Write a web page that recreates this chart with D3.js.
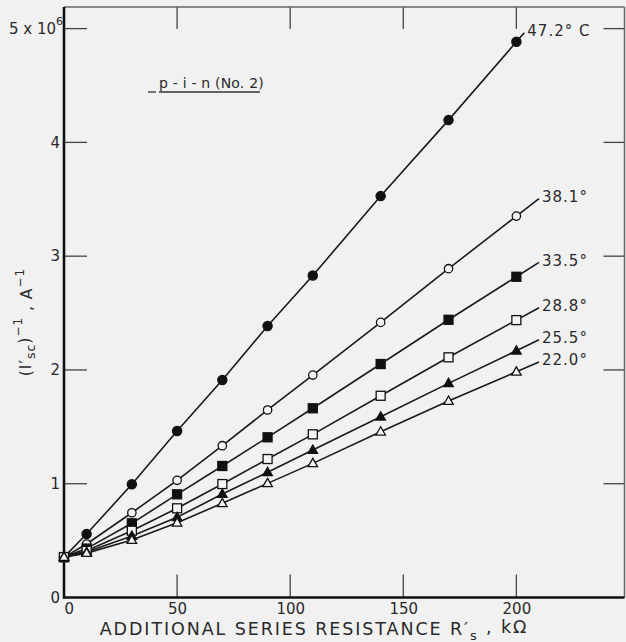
<!DOCTYPE html>
<html>
<head>
<meta charset="utf-8">
<script src="https://cdn.jsdelivr.net/npm/d3@7"></script>
<style>
  html, body { margin: 0; padding: 0; background: #f1f1f1; }
  svg { display: block; }
  text { font-family: "DejaVu Sans", "Liberation Sans", sans-serif; fill: #2a2a2a; }
</style>
</head>
<body>
<svg id="chart" width="626" height="642"></svg>
<script>
// ---- data ----
const resistance = [0, 10, 30, 50, 70, 90, 110, 140, 170, 200];   // kΩ
const seriesNames = ["47.2° C", "38.1°", "33.5°", "28.8°", "25.5°", "22.0°"];
const inv472 = [0.355, 0.558, 0.995, 1.463, 1.911, 2.386, 2.830, 3.528, 4.196, 4.884];
const inv381 = [0.355, 0.470, 0.745, 1.030, 1.334, 1.648, 1.955, 2.418, 2.890, 3.352];
const inv335 = [0.355, 0.430, 0.652, 0.907, 1.156, 1.408, 1.663, 2.052, 2.441, 2.819];
const inv288 = [0.355, 0.410, 0.587, 0.784, 0.997, 1.217, 1.434, 1.773, 2.111, 2.438];
const inv255 = [0.355, 0.400, 0.540, 0.705, 0.909, 1.100, 1.296, 1.589, 1.882, 2.169];
const inv220 = [0.355, 0.390, 0.505, 0.657, 0.828, 1.003, 1.179, 1.457, 1.727, 1.984];
const lineEnd = [203.5, 210, 210, 210, 210, 210];                 // kΩ where each drawn line stops
const markerKinds = ["circleFilled", "circleOpen", "squareFilled", "squareOpen", "triFilled", "triOpen"];
const xTicks = [0, 50, 100, 150, 200];
const yTicks = [0, 1, 2, 3, 4, 5];

const allSeries = [inv472, inv381, inv335, inv288, inv255, inv220];

// ---- layout ----
const svg = d3.select("#chart");
const mLeft = 64, mRight = 624.5, mTop = 7, mBottom = 597.5;
const x = d3.scaleLinear().domain([0, 247.8]).range([mLeft, mRight]);
const y = d3.scaleLinear().domain([0, 5.19]).range([mBottom, mTop]);

// axes (labels through d3 axes, tick marks drawn inward)
const gB = svg.append("g").attr("transform", `translate(0,${mBottom})`)
  .call(d3.axisBottom(x).tickValues(xTicks).tickSize(0).tickPadding(6));
const gL = svg.append("g").attr("transform", `translate(${mLeft},0)`)
  .call(d3.axisLeft(y).tickValues(yTicks).tickSize(0).tickPadding(4).tickFormat(d => d === 5 ? "" : d));

[gB, gL].forEach(g => {
  g.select(".domain").remove();
  g.selectAll("text").attr("font-size", 15).attr("fill", "#2a2a2a")
    .attr("font-family", "\"DejaVu Sans\", sans-serif");
});
gB.selectAll(".tick").filter(d => d === 0).select("text").attr("text-anchor", "start").attr("x", 0);

// "5 x 10^6" label
const t5 = gL.selectAll(".tick").filter(d => d === 5).select("text")
  .attr("x", -1).attr("dy", "0.32em");
t5.append("tspan").text("5 x 10");
t5.append("tspan").attr("font-size", 11).attr("dy", "-0.8em").text("6");

// inward tick marks
const tickCol = "#444", tickW = 1.3;
const tk = svg.append("g").attr("stroke", tickCol).attr("stroke-width", tickW);
tk.selectAll(".bt").data(xTicks.filter(d => d > 0)).join("line")
  .attr("x1", d => x(d)).attr("x2", d => x(d)).attr("y1", mBottom).attr("y2", mBottom - 23);
tk.selectAll(".tt").data(xTicks.filter(d => d > 0)).join("line")
  .attr("x1", d => x(d)).attr("x2", d => x(d)).attr("y1", mTop).attr("y2", mTop + 22);
tk.selectAll(".lt").data(yTicks.filter(d => d > 0)).join("line")
  .attr("x1", mLeft).attr("x2", mLeft + 23).attr("y1", d => y(d)).attr("y2", d => y(d));
tk.selectAll(".rt").data(yTicks.filter(d => d > 0)).join("line")
  .attr("x1", mRight - 21).attr("x2", mRight).attr("y1", d => y(d)).attr("y2", d => y(d));

// frame
svg.append("line").attr("x1", mLeft).attr("x2", mRight).attr("y1", mTop).attr("y2", mTop)
  .attr("stroke", "#666").attr("stroke-width", 1.5);
svg.append("line").attr("x1", mRight).attr("x2", mRight).attr("y1", mTop).attr("y2", mBottom)
  .attr("stroke", "#666").attr("stroke-width", 1.5);
svg.append("line").attr("x1", mLeft).attr("x2", mLeft).attr("y1", mTop).attr("y2", mBottom + 1)
  .attr("stroke", "#111").attr("stroke-width", 2.6);
svg.append("line").attr("x1", mLeft - 1).attr("x2", mRight).attr("y1", mBottom).attr("y2", mBottom)
  .attr("stroke", "#111").attr("stroke-width", 2.6);

// ---- series lines ----
allSeries.forEach((vals, i) => {
  const pts = resistance.map((r, j) => [r, vals[j]]);
  const n = pts.length;
  const [xa, ya] = pts[n - 2], [xb, yb] = pts[n - 1];
  const xe = lineEnd[i];
  pts.push([xe, yb + (yb - ya) / (xb - xa) * (xe - xb)]);
  svg.append("path")
    .attr("d", d3.line().x(d => x(d[0])).y(d => y(d[1]))(pts))
    .attr("fill", "none").attr("stroke", "#1a1a1a").attr("stroke-width", 1.6);
  const endPt = pts[pts.length - 1];
  svg.append("text")
    .attr("x", x(endPt[0]) + 3).attr("y", y(endPt[1]) - 2)
    .attr("dy", "0.35em")
    .attr("font-size", 15).attr("letter-spacing", 1)
    .text(seriesNames[i]);
});

// ---- markers ----
allSeries.forEach((vals, i) => {
  const kind = markerKinds[i];
  const g = svg.append("g");
  resistance.forEach((r, j) => {
    const cx = x(r), cy = y(vals[j]);
    const filled = kind.endsWith("Filled");
    const fill = filled ? "#111" : "#f4f4f4";
    if (kind.startsWith("circle")) {
      g.append("circle").attr("cx", cx).attr("cy", cy).attr("r", filled ? 4.6 : 4.2)
        .attr("fill", fill).attr("stroke", "#111").attr("stroke-width", 1.3);
    } else if (kind.startsWith("square")) {
      const s = 9;
      g.append("rect").attr("x", cx - s / 2).attr("y", cy - s / 2).attr("width", s).attr("height", s)
        .attr("fill", fill).attr("stroke", "#111").attr("stroke-width", 1.3);
    } else {
      const s = 9.5, h = s * 0.87;
      g.append("path")
        .attr("d", `M${cx},${cy - h * 0.6}L${cx + s / 2},${cy + h * 0.4}L${cx - s / 2},${cy + h * 0.4}Z`)
        .attr("fill", fill).attr("stroke", "#111").attr("stroke-width", 1.3);
    }
  });
});

// ---- annotation ----
svg.append("text").attr("x", 159).attr("y", 88).attr("font-size", 14).attr("letter-spacing", 0.2)
  .text("p - i - n (No. 2)");
svg.append("line").attr("x1", 148).attr("x2", 156).attr("y1", 92).attr("y2", 92)
  .attr("stroke", "#333").attr("stroke-width", 1.3);
svg.append("line").attr("x1", 159).attr("x2", 260).attr("y1", 92).attr("y2", 92)
  .attr("stroke", "#333").attr("stroke-width", 1.3);

// ---- axis titles ----
const xt = svg.append("text").attr("x", 314).attr("y", 635).attr("text-anchor", "middle")
  .attr("font-size", 17.5).attr("letter-spacing", 1.9);
xt.append("tspan").text("ADDITIONAL SERIES RESISTANCE R′");
xt.append("tspan").attr("font-size", 13).attr("dy", "0.4em").text("s");
xt.append("tspan").attr("dy", "-0.4em").text(" , kΩ");

const yt = svg.append("text").attr("transform", "translate(31,322) rotate(-90)")
  .attr("text-anchor", "middle").attr("font-size", 15.5).attr("letter-spacing", 1);
yt.append("tspan").text("(I′");
yt.append("tspan").attr("font-size", 12.5).attr("dy", "0.35em").text("sc");
yt.append("tspan").attr("dy", "-0.35em").text(")");
yt.append("tspan").attr("font-size", 12).attr("dy", "-0.7em").text("−1");
yt.append("tspan").attr("dy", "0.7em").text(" ,  A");
yt.append("tspan").attr("font-size", 12).attr("dy", "-0.7em").text("−1");
</script>
</body>
</html>
